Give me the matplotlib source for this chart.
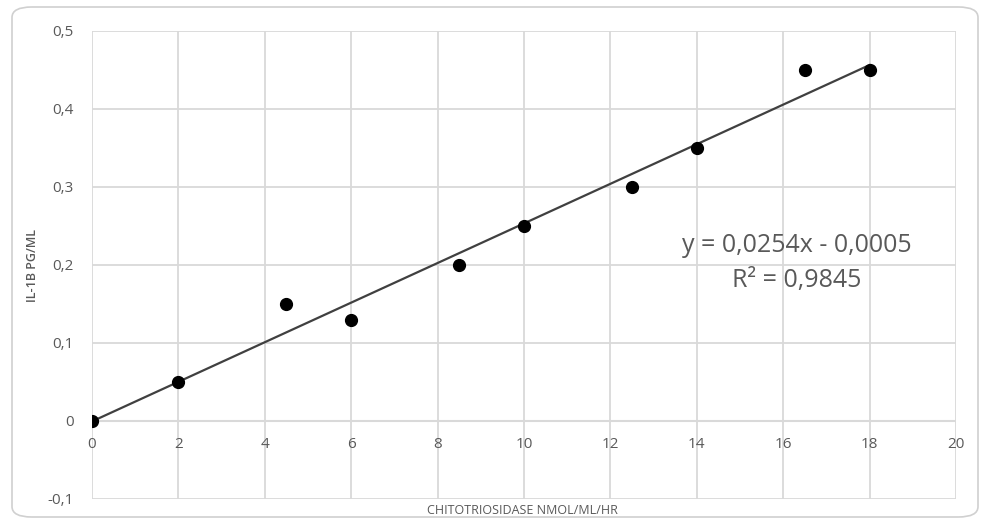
import matplotlib
matplotlib.use("Agg")
import matplotlib.pyplot as plt
from matplotlib.patches import FancyBboxPatch
import numpy as np

plt.rcParams['font.family'] = ['Open Sans', 'DejaVu Sans']

chitotriosidase = [0, 2, 4.5, 6, 8.5, 10, 12.5, 14, 16.5, 18]
il1b = [0, 0.05, 0.15, 0.13, 0.2, 0.25, 0.3, 0.35, 0.45, 0.45]
x_ticks = [0, 2, 4, 6, 8, 10, 12, 14, 16, 18, 20]
y_ticks = [-0.1, 0, 0.1, 0.2, 0.3, 0.4, 0.5]
y_tick_labels = ["-0,1", "0", "0,1", "0,2", "0,3", "0,4", "0,5"]
x_label = "CHITOTRIOSIDASE NMOL/ML/HR"
y_label = "IL-1B PG/ML"

W, H = 981, 522
fig = plt.figure(figsize=(W / 100, H / 100), dpi=100)

# rounded chart border
border = FancyBboxPatch((12 / W, 5 / H), (966 / W), (510 / H),
                        boxstyle="round,pad=0,rounding_size=0.02",
                        transform=fig.transFigure, facecolor="white",
                        edgecolor="#d0d0d0", linewidth=1.2, zorder=-10)
fig.patches.append(border)

ax = fig.add_axes([92 / W, 1 - 499 / H, (956 - 92) / W, (499 - 31) / H])
ax.set_zorder(5)
ax.set_facecolor("none")
ax.set_xlim(0, 20)
ax.set_ylim(-0.1, 0.5)

grid_c = "#d9d9d9"
for s in ax.spines.values():
    s.set_visible(False)
ax.set_xticks(x_ticks)
ax.set_yticks(y_ticks)
ax.set_axisbelow(True)
ax.grid(True, color=grid_c, linewidth=1.3, zorder=0)
ax.axhline(0, color=grid_c, linewidth=1.5, zorder=1)
ax.tick_params(length=0, colors="#595959", labelsize=11)
ax.set_yticklabels(y_tick_labels)
ax.tick_params(axis="y", pad=13)
ax.set_xticklabels([])
for xv in x_ticks:
    ax.text(xv, -0.021, str(xv), ha="center", va="top", color="#595959", fontsize=11)

# trendline from least squares
coef = np.polyfit(chitotriosidase, il1b, 1)
xs = np.array([0, max(chitotriosidase)])
ax.plot(xs, np.polyval(coef, xs), color="#404040", linewidth=1.6, zorder=3)

ax.plot(chitotriosidase, il1b, linestyle="none", marker="o", markersize=8.5,
        color="black", zorder=4)

fig.text(797 / W, 1 - 245 / H, "y = 0,0254x - 0,0005",
         ha="center", va="center", fontsize=18, color="#595959", zorder=10)
fig.text(797 / W, 1 - 281 / H, "R² = 0,9845",
         ha="center", va="center", fontsize=18, color="#595959", zorder=10)

fig.text(522 / W, 1 - 510 / H, x_label, ha="center", va="center",
         fontsize=9, color="#595959")
fig.text(32 / W, 1 - 265 / H, y_label, ha="center", va="center", rotation=90,
         fontsize=9, color="#595959", fontweight="semibold")

fig.savefig("out.png", dpi=100, facecolor="white")
